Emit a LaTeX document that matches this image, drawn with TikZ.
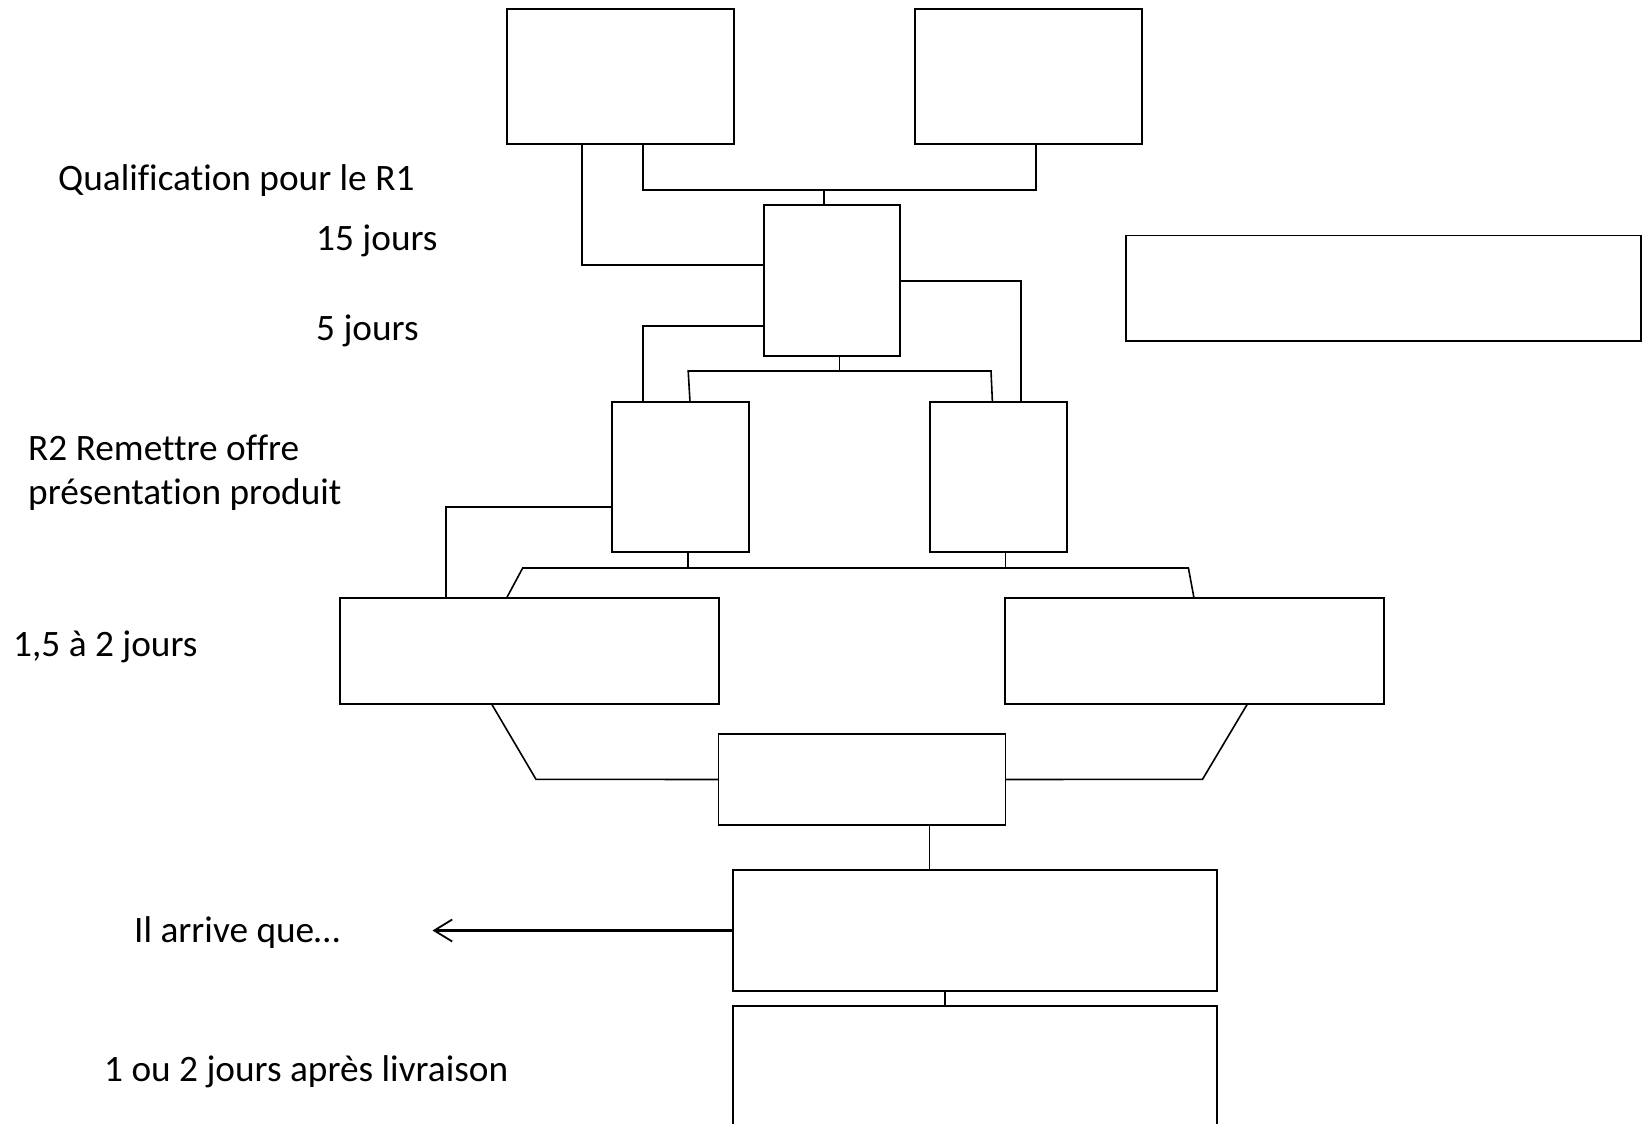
\documentclass[tikz,border=0pt]{standalone}
\usepackage{fontspec}
\setmainfont[Ligatures={NoCommon,NoContextual}]{Carlito}
\usetikzlibrary{arrows.meta}
\begin{document}
\begin{tikzpicture}[x=1pt,y=-1pt,
  box/.style={draw=black, line width=1.7pt, rectangle, inner sep=0pt, outer sep=0pt, anchor=north west, fill=white},
  conn/.style={draw=black, line width=1.6pt},
  lbl/.style={anchor=base west, inner sep=0pt, font=\fontsize{37.3}{44}\selectfont}]
\clip (0,0) rectangle (1649,1124);
\fill[white] (0,0) rectangle (1649,1124);
% boxes
\node[box, minimum width=227pt, minimum height=135pt] (A) at (507,9) {};
\node[box, minimum width=227pt, minimum height=135pt] (B) at (915,9) {};
\node[box, minimum width=136pt, minimum height=151pt] (C) at (764,205) {};
\node[box, minimum width=515pt, minimum height=105.5pt] (K) at (1126,235.5) {};
\node[box, minimum width=137pt, minimum height=150pt] (D) at (612,402) {};
\node[box, minimum width=137pt, minimum height=150pt] (E) at (930,402) {};
\node[box, minimum width=379pt, minimum height=106pt] (F) at (340,598) {};
\node[box, minimum width=379pt, minimum height=106pt] (G) at (1005,598) {};
\node[box, minimum width=287pt, minimum height=91pt] (H) at (718.5,734) {};
\node[box, minimum width=484pt, minimum height=121pt] (I) at (733,870) {};
\node[box, minimum width=484pt, minimum height=140pt] (J) at (733,1006) {};
% labels
\node[lbl] (t1) at (58,190) {Qualification pour le R1};
\node[lbl] (t2) at (316,250) {15 jours};
\node[lbl] (t3) at (316,340) {5 jours};
\node[lbl] (t4) at (28,460) {R2 Remettre offre};
\node[lbl] (t5) at (28,504) {présentation produit};
\node[lbl] (t6) at (13,656.5) {1,5 à 2 jours};
\node[lbl] (t7) at (134,942.5) {Il arrive que…};
\node[lbl] (t8) at (104,1081) {1 ou 2 jours après livraison};
% helper coordinates
\coordinate (a1) at ([xshift=75pt]A.south west);
\coordinate (a2) at ([xshift=136pt]A.south west);
\coordinate (bb) at ([xshift=121pt]B.south west);
\coordinate (jt) at (823.75,189.7);
\coordinate (c1) at ([yshift=-60pt]C.north west);
\coordinate (c2) at ([yshift=-76pt]C.north east);
\coordinate (c3) at ([yshift=-121pt]C.north west);
\coordinate (e1) at ([xshift=91pt]E.north west);
\coordinate (dd) at ([xshift=31pt]D.north west);
\coordinate (jm) at (839.4,371);
\coordinate (m1) at (688.2,371);
\coordinate (m2) at (991,371);
\coordinate (d2) at ([xshift=78pt]D.north west);
\coordinate (e2) at ([xshift=62.4pt]E.north west);
\coordinate (d3) at ([yshift=-105pt]D.north west);
\coordinate (f1) at ([xshift=106pt]F.north west);
\coordinate (d4) at ([xshift=76pt]D.south west);
\coordinate (e4) at ([xshift=75.5pt]E.south west);
\coordinate (b1) at (522.7,568);
\coordinate (b2) at (1188.4,568);
\coordinate (f2) at ([xshift=166.6pt]F.north west);
\coordinate (g2) at ([xshift=189pt]G.north west);
\coordinate (f3) at ([xshift=151.6pt]F.south west);
\coordinate (l1) at (536,779.3);
\coordinate (g3) at ([xshift=242.4pt]G.south west);
\coordinate (r1) at (1202.5,779.3);
\coordinate (h1) at ([xshift=211pt]H.south west);
\coordinate (i1) at ([xshift=212pt]I.south west);
\coordinate (arr) at (432.5,930.5);
% connectors
\draw[conn] (a1) |- (c1);
\draw[conn] (a2) |- (jt) -| (bb);
\draw[conn] (jt) -- (jt |- C.north);
\draw[conn] (c2) -| (e1);
\draw[conn] (c3) -| (dd);
\draw[conn] (jm |- C.south) -- (jm);
\draw[conn] (d2) -- (m1) -- (m2) -- (e2);
\draw[conn] (d3) -| (f1);
\draw[conn] (d4) -- (d4 |- b1);
\draw[conn] (e4) -- (e4 |- b1);
\draw[conn] (f2) -- (b1) -- (b2) -- (g2);
\draw[conn] (f3) -- (l1) -- (H.west);
\draw[conn] (g3) -- (r1) -- (H.east);
\draw[conn] (h1) -- (h1 |- I.north);
\draw[conn] (i1) -- (i1 |- J.north);
\draw[conn, line width=2.2pt, -{Straight Barb[length=18pt, width=22pt, line width=1.8pt]}] (I.west) -- (arr);
\end{tikzpicture}
\end{document}
